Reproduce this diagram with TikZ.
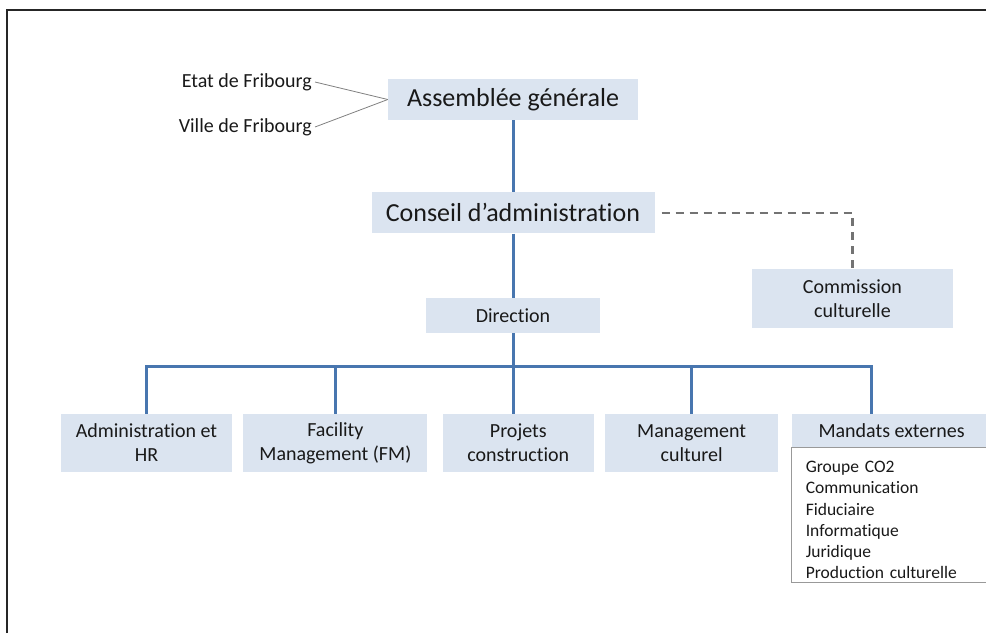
\documentclass[tikz,border=0pt]{standalone}
\usepackage{fontspec}
\setmainfont{Carlito}[Ligatures={NoCommon}]
\usetikzlibrary{positioning}

\definecolor{boxfill}{RGB}{219,228,240}
\definecolor{linkblue}{RGB}{72,118,175}
\definecolor{dashgray}{RGB}{115,115,115}
\newcommand{\listfont}{\fontsize{17.5}{21.2}\selectfont\spaceskip=2.5pt plus 1pt\relax}

\begin{document}
\begin{tikzpicture}[
    x=1pt, y=1pt,
    box/.style={rectangle, fill=boxfill, inner sep=2pt, align=center, text=black!90, font=\fontsize{20}{24}\selectfont},
    bigbox/.style={box, font=\fontsize{26}{31}\selectfont},
    child/.style={box, minimum height=58pt},
    listbox/.style={rectangle, draw=gray!80, fill=white, line width=0.8pt, minimum width=200pt, text width=172pt, inner xsep=14pt, inner ysep=4pt, align=left, text=black!90, font=\listfont},
    member/.style={anchor=east, inner sep=3pt, text=black!90, font=\fontsize{20}{24}\selectfont},
    link/.style={linkblue, line width=3pt},
    dashlink/.style={dashgray, line width=2.2pt, dash pattern=on 8pt off 6pt},
    thinlink/.style={gray, line width=0.8pt},
    frame/.style={black!85, line width=1.5pt}
]
    \useasboundingbox (0,0) rectangle (986,-633);
    \clip (0,0) rectangle (986,-633);
    \draw[frame] (7,-633) -- (7,-10) -- (986,-10);

    % top of the chart
    \node[bigbox, minimum width=250pt, minimum height=41pt] (ag) at (513,-99.5) {Assemblée générale};
    \node[bigbox, minimum width=283pt, minimum height=41pt, below=72pt of ag] (ca) {Conseil d’administration};
    \node[box, minimum width=174pt, minimum height=35pt, below=64pt of ca] (dir) {Direction};
    \node[box, minimum width=201pt, minimum height=59pt] (com) at (852.5,-298.5) {Commission\\culturelle};
    \node[member] (etat) at (315,-82) {Etat de Fribourg};
    \node[member] (ville) at (315,-127) {Ville de Fribourg};

    % departments
    \node[child, minimum width=171pt] (admin) at (146.5,-443) {Administration et\\HR};
    \node[child, minimum width=184pt, right=11pt of admin] (fm) {Facility\\Management (FM)};
    \node[child, minimum width=151pt, right=15pt of fm] (proj) {Projets\\construction};
    \node[child, minimum width=173pt, right=11pt of proj] (mgmt) {Management\\culturel};
    \node[box, minimum width=200pt, minimum height=33pt, right=13pt of mgmt.north east, anchor=north west] (mandats) {Mandats externes};
    \node[listbox, anchor=north west] (liste) at (mandats.south west) {\rule{0pt}{21pt}Groupe CO2\\Communication\\Fiduciaire\\Informatique\\Juridique\\Production culturelle};

    \draw[thinlink] (etat.east) -- (ag.west);
    \draw[thinlink] (ville.east) -- (ag.west);
    \draw[link] (ag) -- (ca);
    \draw[link] (ca) -- (dir);
    \draw[dashlink] ([xshift=7pt]ca.east) -| (com.north);

    \coordinate[below=33pt of dir] (bus);
    \draw[link] (dir) -- (dir |- proj.north);
    \draw[link] (admin.north) |- (bus) -| ([xshift=-20pt]mandats.north);
    \draw[link] (fm.north) -- (fm.north |- bus);
    \draw[link] (mgmt.north) -- (mgmt.north |- bus);
\end{tikzpicture}
\end{document}
